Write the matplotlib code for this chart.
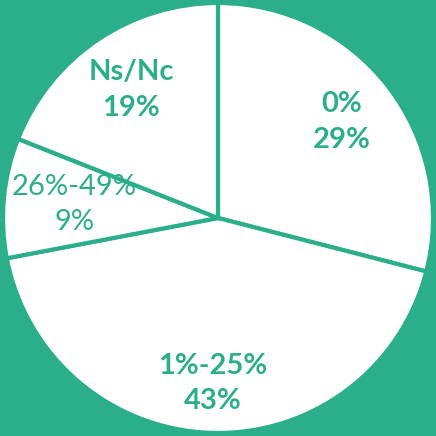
import matplotlib.pyplot as plt
import numpy as np

# Data: share of responses per category
categories = ['0%', '1%-25%', '26%-49%', 'Ns/Nc']
shares = [29, 43, 9, 19]
bold = [True, True, False, True]
label_dist = [0.73, 0.77, 0.67, 0.72]

teal = '#2BAE8A'

fig = plt.figure(figsize=(4.36, 4.36), dpi=100, facecolor=teal)
ax = fig.add_axes([0, 0, 1, 1])
ax.set_facecolor(teal)

wedges, _ = ax.pie(shares, startangle=90, counterclock=False,
                   colors=['white'] * len(shares),
                   wedgeprops=dict(edgecolor=teal, linewidth=3))

# Labels with category and percentage
for w, cat, val, b, d in zip(wedges, categories, shares, bold, label_dist):
    ang = np.deg2rad((w.theta1 + w.theta2) / 2)
    ax.text(d * np.cos(ang), d * np.sin(ang), f'{cat}\n{val}%',
            ha='center', va='center', color=teal, fontsize=21,
            fontfamily='Lato', fontweight='bold' if b else 'normal',
            linespacing=1.45)

ax.set_xlim(-1.014, 1.014)
ax.set_ylim(-1.014, 1.014)
ax.set_aspect('equal')
ax.axis('off')

plt.savefig('out.png', dpi=100, facecolor=teal)
